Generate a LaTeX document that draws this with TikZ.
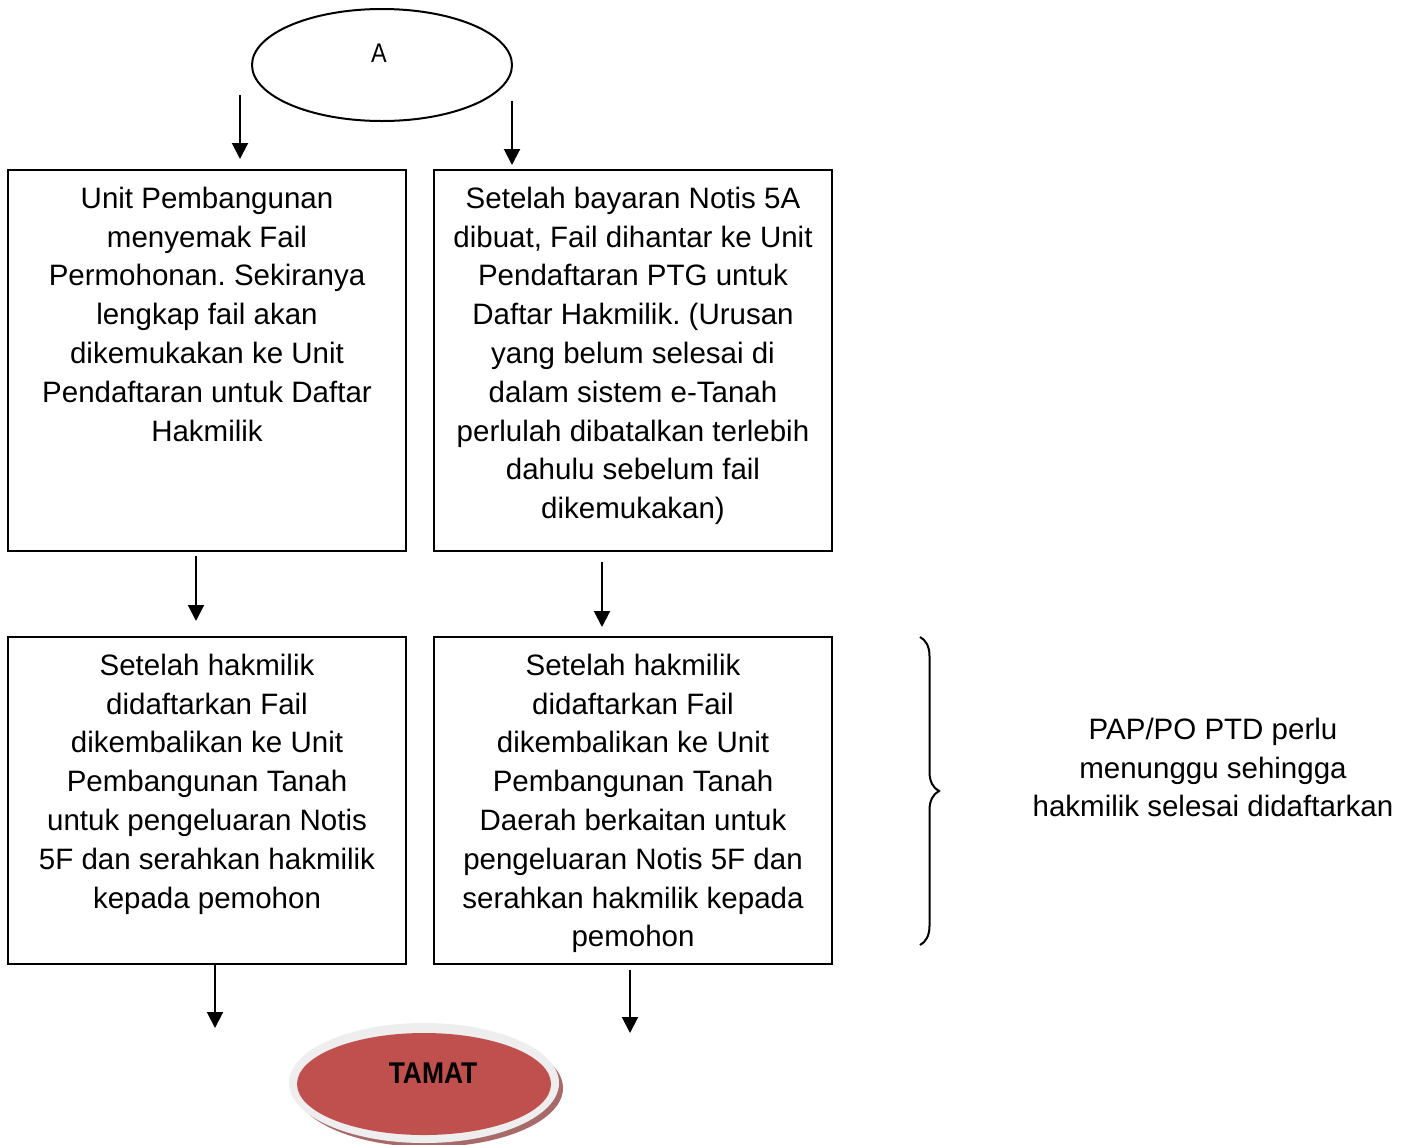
\documentclass[tikz,border=0pt]{standalone}
\usepackage{fontspec}
\setmainfont{Liberation Sans}
\newfontfamily\narrowbold[FakeStretch=0.88]{Liberation Sans Bold}
\newfontfamily\narrowreg[FakeStretch=0.87]{Liberation Sans}
\usetikzlibrary{arrows.meta,shapes.geometric,decorations.pathreplacing}
\definecolor{tamatred}{HTML}{C0504D}
\definecolor{rimgray}{HTML}{EEEEEE}
\definecolor{shadowred}{HTML}{A86A68}
\frenchspacing
\begin{document}
\begin{tikzpicture}[x=1pt,y=-1pt,
  box/.style={draw,line width=2pt,minimum width=398pt,inner sep=0pt},
  boxtext/.style={anchor=north,inner sep=0pt,align=center,font=\fontsize{29.5}{38.8}\selectfont},
  arr/.style={line width=2pt,-{Triangle[width=16pt,length=16pt]}},
  lbl/.style={inner sep=0pt,anchor=base}]
\useasboundingbox (0,0) rectangle (1408,1144);
\fill[white] (0,0) rectangle (1408,1144);

% start ellipse
\node[draw,line width=2pt,ellipse,minimum width=260pt,minimum height=112pt,inner sep=0pt] (startA) at (382,65) {};
\node[lbl,font=\narrowreg\fontsize{27}{30}\selectfont] (labelA) at (379,62) {A};

% top boxes
\node[box,minimum height=381pt] (b1) at (207,360.5) {};
\node[box,minimum height=381pt] (b2) at (633,360.5) {};
\node[boxtext] (t1) at (207,184) {\rule{0pt}{24pt}Unit Pembangunan\\menyemak Fail\\Permohonan. Sekiranya\\lengkap fail akan\\dikemukakan ke Unit\\Pendaftaran untuk Daftar\\Hakmilik};
\node[boxtext] (t2) at (633,184) {\rule{0pt}{24pt}Setelah bayaran Notis 5A\\dibuat, Fail dihantar ke Unit\\Pendaftaran PTG untuk\\Daftar Hakmilik. (Urusan\\yang belum selesai di\\dalam sistem e-Tanah\\perlulah dibatalkan terlebih\\dahulu sebelum fail\\dikemukakan)};

% bottom boxes
\node[box,minimum height=327pt] (b3) at (207,800.5) {};
\node[box,minimum height=327pt] (b4) at (633,800.5) {};
\node[boxtext] (t3) at (207,651) {\rule{0pt}{24pt}Setelah hakmilik\\didaftarkan Fail\\dikembalikan ke Unit\\Pembangunan Tanah\\untuk pengeluaran Notis\\5F dan serahkan hakmilik\\kepada pemohon};
\node[boxtext] (t4) at (633,651) {\rule{0pt}{24pt}Setelah hakmilik\\didaftarkan Fail\\dikembalikan ke Unit\\Pembangunan Tanah\\Daerah berkaitan untuk\\pengeluaran Notis 5F dan\\serahkan hakmilik kepada\\pemohon};

% side note
\node[boxtext] (note) at (1213,715) {\rule{0pt}{24pt}PAP/PO PTD perlu\\menunggu sehingga\\hakmilik selesai didaftarkan};

% brace
\coordinate (braceTop) at (920,637);
\coordinate (braceBot) at (920,945);
\draw[line width=2pt,decorate,decoration={brace,amplitude=19pt}] (braceTop) -- (braceBot);

% arrow coordinates
\coordinate (a1s) at (240,95);  \coordinate (a1e) at (240,159);
\coordinate (a2s) at (512,101); \coordinate (a2e) at (512,165);
\coordinate (a3s) at (196,556); \coordinate (a3e) at (196,621);
\coordinate (a4s) at (602,562); \coordinate (a4e) at (602,627);
\coordinate (a5s) at (215,964); \coordinate (a5e) at (215,1028);
\coordinate (a6s) at (630,970); \coordinate (a6e) at (630,1033);
\draw[arr] (a1s) -- (a1e);
\draw[arr] (a2s) -- (a2e);
\draw[arr] (a3s) -- (a3e);
\draw[arr] (a4s) -- (a4e);
\draw[arr] (a5s) -- (a5e);
\draw[arr] (a6s) -- (a6e);

% end ellipse
\fill[shadowred] (429,1088) ellipse [x radius=134pt,y radius=59pt];
\fill[rimgray] (424,1083) ellipse [x radius=135pt,y radius=60pt];
\node[ellipse,fill=tamatred,minimum width=254pt,minimum height=102pt,inner sep=0pt] (tamat) at (424,1084) {};
\node[lbl,font=\narrowbold\fontsize{30}{34}\selectfont] (tamattext) at (433,1083) {TAMAT};
\end{tikzpicture}
\end{document}
